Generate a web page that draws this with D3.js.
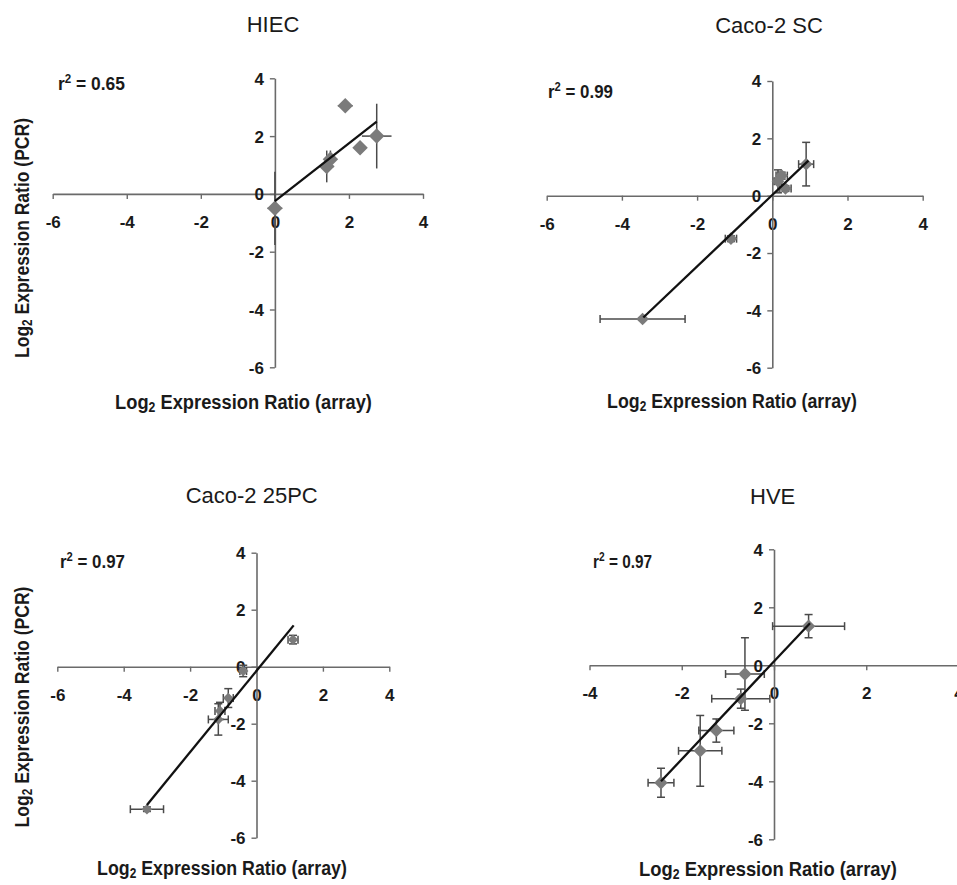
<!DOCTYPE html>
<html><head><meta charset="utf-8">
<script src="https://cdn.jsdelivr.net/npm/d3@7"></script>
<style>body{margin:0;background:#fff}svg{display:block}</style>
</head><body>
<svg id="c" width="957" height="885"></svg>
<script>
// ---- data ----
const xTicks6 = [-6, -4, -2, 0, 2, 4];
const xTicks4 = [-4, -2, 0, 2, 4];
const yTicks = [4, 2, 0, -2, -4, -6];
const panelTitles = ["HIEC", "Caco-2 SC", "Caco-2 25PC", "HVE"];
const rSquared = ["0.65", "0.99", "0.97", "0.97"];

const hiecX    = [0, 1.4, 1.5, 1.9, 2.3, 2.75];
const hiecY    = [-0.5, 0.95, 1.2, 3.05, 1.6, 2.0];
const hiecXErr = [0.2, 0.2, 0.12, 0.2, 0.1, 0.4];
const hiecYErr = [1.27, 0.55, 0.3, 0.08, 0.12, 1.12];
const hiecFitX = [0, 2.75];
const hiecFitY = [-0.25, 2.5];

const scX    = [-3.45, -1.1, 0.15, 0.25, 0.35, 0.9];
const scY    = [-4.3, -1.5, 0.5, 0.7, 0.25, 1.1];
const scXErr = [1.13, 0.15, 0.1, 0.15, 0.15, 0.2];
const scYErr = [0.04, 0.1, 0.4, 0.12, 0.1, 0.76];
const scFitX = [-3.43, 0.96];
const scFitY = [-4.25, 1.22];

const pcX    = [-3.3, -1.15, -1.1, -0.85, -0.4, 1.1];
const pcY    = [-5.0, -1.85, -1.55, -1.1, -0.15, 0.95];
const pcXErr = [0.5, 0.3, 0.15, 0.15, 0.1, 0.15];
const pcYErr = [0.08, 0.55, 0.3, 0.33, 0.2, 0.15];
const pcFitX = [-3.3, 1.12];
const pcFitY = [-4.85, 1.45];

const hveX    = [-2.45, -1.6, -1.25, -0.72, -0.63, 0.75];
const hveY    = [-4.05, -2.95, -2.25, -1.15, -0.3, 1.35];
const hveXErr = [0.28, 0.47, 0.38, 0.63, 0.42, 0.78];
const hveYErr = [0.5, 1.22, 0.4, 0.33, 1.25, 0.4];
const hveFitX = [-2.45, 0.78];
const hveFitY = [-4.0, 1.45];

// ---- layout ----
const panels = [
  {x: hiecX, y: hiecY, xe: hiecXErr, ye: hiecYErr, fx: hiecFitX, fy: hiecFitY, xt: xTicks6,
   xr: [52.7, 423], yr: [367.3, 78.3], title: [273, 32], r2: [58, 90, 67], xlab: [243.5, 409, 257],
   ylab: [29, 238, 240], caps: false, msize: 120},
  {x: scX, y: scY, xe: scXErr, ye: scYErr, fx: scFitX, fy: scFitY, xt: xTicks6,
   xr: [546.7, 922.7], yr: [367.7, 81], title: [769, 33], r2: [548, 98, 65], xlab: [732, 408, 250],
   ylab: null, caps: true, msize: 80},
  {x: pcX, y: pcY, xe: pcXErr, ye: pcYErr, fx: pcFitX, fy: pcFitY, xt: xTicks6,
   xr: [57.3, 389.3], yr: [837.7, 552.7], title: [251.7, 503], r2: [60, 568, 65], xlab: [222, 875, 250],
   ylab: [29, 707, 241], caps: true, msize: 55},
  {x: hveX, y: hveY, xe: hveXErr, ye: hveYErr, fx: hveFitX, fy: hveFitY, xt: xTicks4,
   xr: [589.5, 958.5], yr: [839.3, 549.3], title: [772.7, 504], r2: [593, 568, 59], xlab: [768, 876, 258],
   ylab: null, caps: true, msize: 90}
];

const svg = d3.select("#c");
const FONT = "'Liberation Sans', Arial, sans-serif";
const AX = "#6a6a6a";

function stretch(t, cx, cy, target, rot) {
  const w = t.node().getBBox().width;
  const s = target / w;
  t.attr("x", 0).attr("y", 0)
   .attr("transform", `translate(${cx},${cy})` + (rot ? " rotate(-90)" : "") + ` scale(${s},1)`);
}

function addLogLabel(g, main, tail) {
  const t = g.append("text").attr("text-anchor", "middle")
    .attr("font-family", FONT).attr("font-weight", "bold").attr("font-size", 21).attr("fill", "#1a1a1a");
  t.append("tspan").text(main);
  t.append("tspan").attr("font-size", 14).attr("dy", 3).text("2");
  t.append("tspan").attr("dy", -3).text(tail);
  return t;
}

const fmt = d => String(d);

panels.forEach((p, i) => {
  const g = svg.append("g");
  const x = d3.scaleLinear().domain([p.xt[0], 4]).range(p.xr);
  const y = d3.scaleLinear().domain([-6, 4]).range(p.yr);

  // axes
  const xa = g.append("g").attr("transform", `translate(0,${y(0)})`)
    .call(d3.axisBottom(x).tickValues(p.xt).tickSize(5).tickSizeOuter(0).tickPadding(17).tickFormat(fmt));
  const ya = g.append("g").attr("transform", `translate(${x(0)},0)`)
    .call(d3.axisLeft(y).tickValues(yTicks).tickSize(5).tickSizeOuter(0).tickPadding(6).tickFormat(fmt));
  [xa, ya].forEach(a => {
    a.select(".domain").attr("stroke", AX).attr("stroke-width", 1.6);
    a.selectAll(".tick line").attr("stroke", AX).attr("stroke-width", 1.4);
    a.selectAll(".tick text").attr("font-family", FONT).attr("font-weight", "bold")
      .attr("font-size", 17).attr("fill", "#1a1a1a");
  });
  ya.selectAll(".tick text").attr("dy", "0.35em");

  // error bars
  const eb = g.append("g").attr("stroke", "#4a4a4a").attr("stroke-width", 1.5).attr("fill", "none");
  const cap = 4;
  p.x.forEach((xv, k) => {
    const yv = p.y[k];
    const x0 = x(xv - p.xe[k]), x1 = x(xv + p.xe[k]);
    const y0 = y(yv - p.ye[k]), y1 = y(yv + p.ye[k]);
    eb.append("line").attr("x1", x0).attr("x2", x1).attr("y1", y(yv)).attr("y2", y(yv));
    eb.append("line").attr("x1", x(xv)).attr("x2", x(xv)).attr("y1", y0).attr("y2", y1);
    if (p.caps) {
      [x0, x1].forEach(xx => eb.append("line").attr("x1", xx).attr("x2", xx)
        .attr("y1", y(yv) - cap).attr("y2", y(yv) + cap));
      [y0, y1].forEach(yy => eb.append("line").attr("y1", yy).attr("y2", yy)
        .attr("x1", x(xv) - cap).attr("x2", x(xv) + cap));
    }
  });

  // markers
  const sym = d3.symbol(d3.symbolSquare).size(p.msize);
  g.append("g").selectAll("path").data(p.x).join("path")
    .attr("d", sym)
    .attr("transform", (d, k) => `translate(${x(d)},${y(p.y[k])}) rotate(45)`)
    .attr("fill", "#7b7b7b");

  // regression line
  g.append("line")
    .attr("x1", x(p.fx[0])).attr("y1", y(p.fy[0]))
    .attr("x2", x(p.fx[1])).attr("y2", y(p.fy[1]))
    .attr("stroke", "#111").attr("stroke-width", 2.3);

  // title
  g.append("text").attr("x", p.title[0]).attr("y", p.title[1]).attr("text-anchor", "middle")
    .attr("font-family", FONT).attr("font-size", 22).attr("fill", "#1a1a1a").text(panelTitles[i]);

  // r^2
  const rt = g.append("text").attr("text-anchor", "start")
    .attr("font-family", FONT).attr("font-weight", "bold").attr("font-size", 18).attr("fill", "#1a1a1a");
  rt.append("tspan").text("r");
  rt.append("tspan").attr("font-size", 12).attr("dy", -7).text("2");
  rt.append("tspan").attr("dy", 7).text(" = " + rSquared[i]);
  const w = rt.node().getBBox().width;
  rt.attr("transform", `translate(${p.r2[0]},${p.r2[1]}) scale(${p.r2[2] / w},1)`);

  // axis labels
  const xl = addLogLabel(g, "Log", " Expression Ratio (array)");
  stretch(xl, p.xlab[0], p.xlab[1], p.xlab[2], false);
  if (p.ylab) {
    const yl = addLogLabel(g, "Log", " Expression Ratio (PCR)");
    stretch(yl, p.ylab[0], p.ylab[1], p.ylab[2], true);
  }
});
</script>
</body></html>
